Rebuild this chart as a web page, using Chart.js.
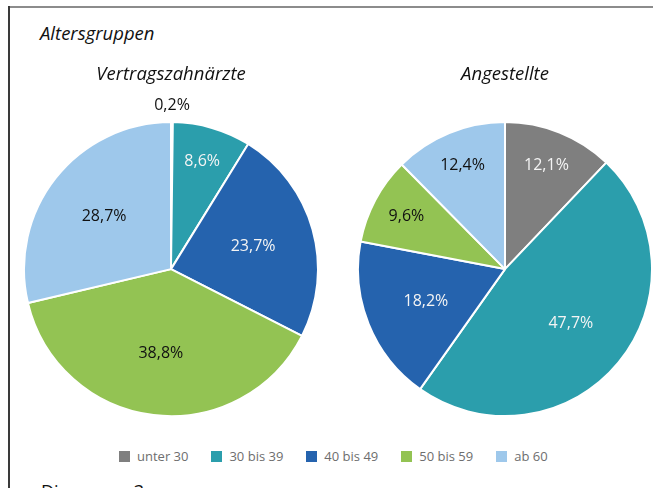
<!DOCTYPE html>
<html>
<head>
<meta charset="utf-8">
<script src="https://cdn.jsdelivr.net/npm/chart.js@4.4.1/dist/chart.umd.min.js"></script>
<style>
  html, body { margin: 0; padding: 0; background: #fff; overflow: hidden; }
  body { width: 653px; height: 488px; position: relative; font-family: "Open Sans", sans-serif; }
  #topline { position: absolute; left: 8px; top: 6px; width: 645px; height: 2px; background: #8c8c8c; }
  #leftline { position: absolute; left: 8px; top: 6px; width: 1.5px; height: 482px; background: #3a3a3a; }
  #heading { position: absolute; left: 40px; top: 20px; font-size: 18.5px; font-style: italic; color: #111; }
  #left { position: absolute; left: 20px; top: 50px; }
  #right { position: absolute; left: 353px; top: 50px; }
  #legend { position: absolute; left: 119px; top: 447px; white-space: nowrap;
            font-size: 13px; color: #6e6e6e; }
  #legend span.item { display: inline-flex; align-items: center; margin-right: 23px; }
  #legend span.box { width: 11px; height: 11px; margin-right: 7px; display: inline-block; }
  #foot { position: absolute; left: 41px; top: 479px; font-size: 18px; color: #111; }
</style>
</head>
<body>
<div id="topline"></div>
<div id="leftline"></div>
<div id="heading">Altersgruppen</div>
<canvas id="left" width="304" height="370"></canvas>
<canvas id="right" width="300" height="370"></canvas>
<div id="legend"></div>
<div id="foot">Diagramm 3</div>
<script>
// age groups
var categories = ["unter 30", "30 bis 39", "40 bis 49", "50 bis 59", "ab 60"];
var zahnaerzte = [0.2, 8.6, 23.7, 38.8, 28.7];
var angestellte = [12.1, 47.7, 18.2, 9.6, 12.4];
var colors = ["#7f7f7f", "#2b9eac", "#2563ae", "#93c353", "#9ec8eb"];
var labelColors = ["#f4f4f4", "#f4f4f4", "#f4f4f4", "#111111", "#111111"];

// percent labels inside/outside the slices
var pieLabels = {
  id: 'pieLabels',
  afterDatasetsDraw: function(chart) {
    var ctx = chart.ctx;
    var meta = chart.getDatasetMeta(0);
    var data = chart.data.datasets[0].data;
    ctx.save();
    ctx.font = '16px "Open Sans", sans-serif';
    ctx.textAlign = 'center';
    ctx.textBaseline = 'middle';
    meta.data.forEach(function(arc, i) {
      var p = arc.getProps(['x', 'y', 'startAngle', 'endAngle', 'outerRadius'], true);
      var mid = (p.startAngle + p.endAngle) / 2;
      var v = data[i];
      var r, col;
      if (v < 1) { r = p.outerRadius + 17; col = '#111111'; }
      else if (v < 15) { r = p.outerRadius * 0.76; col = labelColors[i]; }
      else { r = p.outerRadius * 0.58; col = labelColors[i]; }
      ctx.fillStyle = col;
      ctx.fillText(v.toFixed(1).replace('.', ',') + '%', p.x + Math.cos(mid) * r, p.y + Math.sin(mid) * r);
    });
    ctx.restore();
  }
};

function makePie(id, title, values, pad) {
  return new Chart(document.getElementById(id), {
    type: 'pie',
    data: {
      labels: categories,
      datasets: [{
        data: values,
        backgroundColor: colors,
        borderColor: '#ffffff',
        borderWidth: 2
      }]
    },
    options: {
      responsive: false,
      animation: false,
      layout: { padding: pad },
      plugins: {
        legend: { display: false },
        tooltip: { enabled: false },
        title: {
          display: true,
          text: title,
          color: '#111',
          font: { family: '"Open Sans", sans-serif', size: 18.5, style: 'italic', weight: 'normal' },
          padding: { top: 14, bottom: 34 }
        }
      }
    },
    plugins: [pieLabels]
  });
}

makePie('left', 'Vertragszahnärzte', zahnaerzte, { left: 3, right: 5, top: 0, bottom: 2 });
makePie('right', 'Angestellte', angestellte, { left: 4, right: 0, top: 0, bottom: 2 });

// shared legend
var lg = document.getElementById('legend');
categories.forEach(function(c, i) {
  var item = document.createElement('span');
  item.className = 'item';
  var box = document.createElement('span');
  box.className = 'box';
  box.style.background = colors[i];
  item.appendChild(box);
  item.appendChild(document.createTextNode(c));
  lg.appendChild(item);
});
</script>
</body>
</html>
